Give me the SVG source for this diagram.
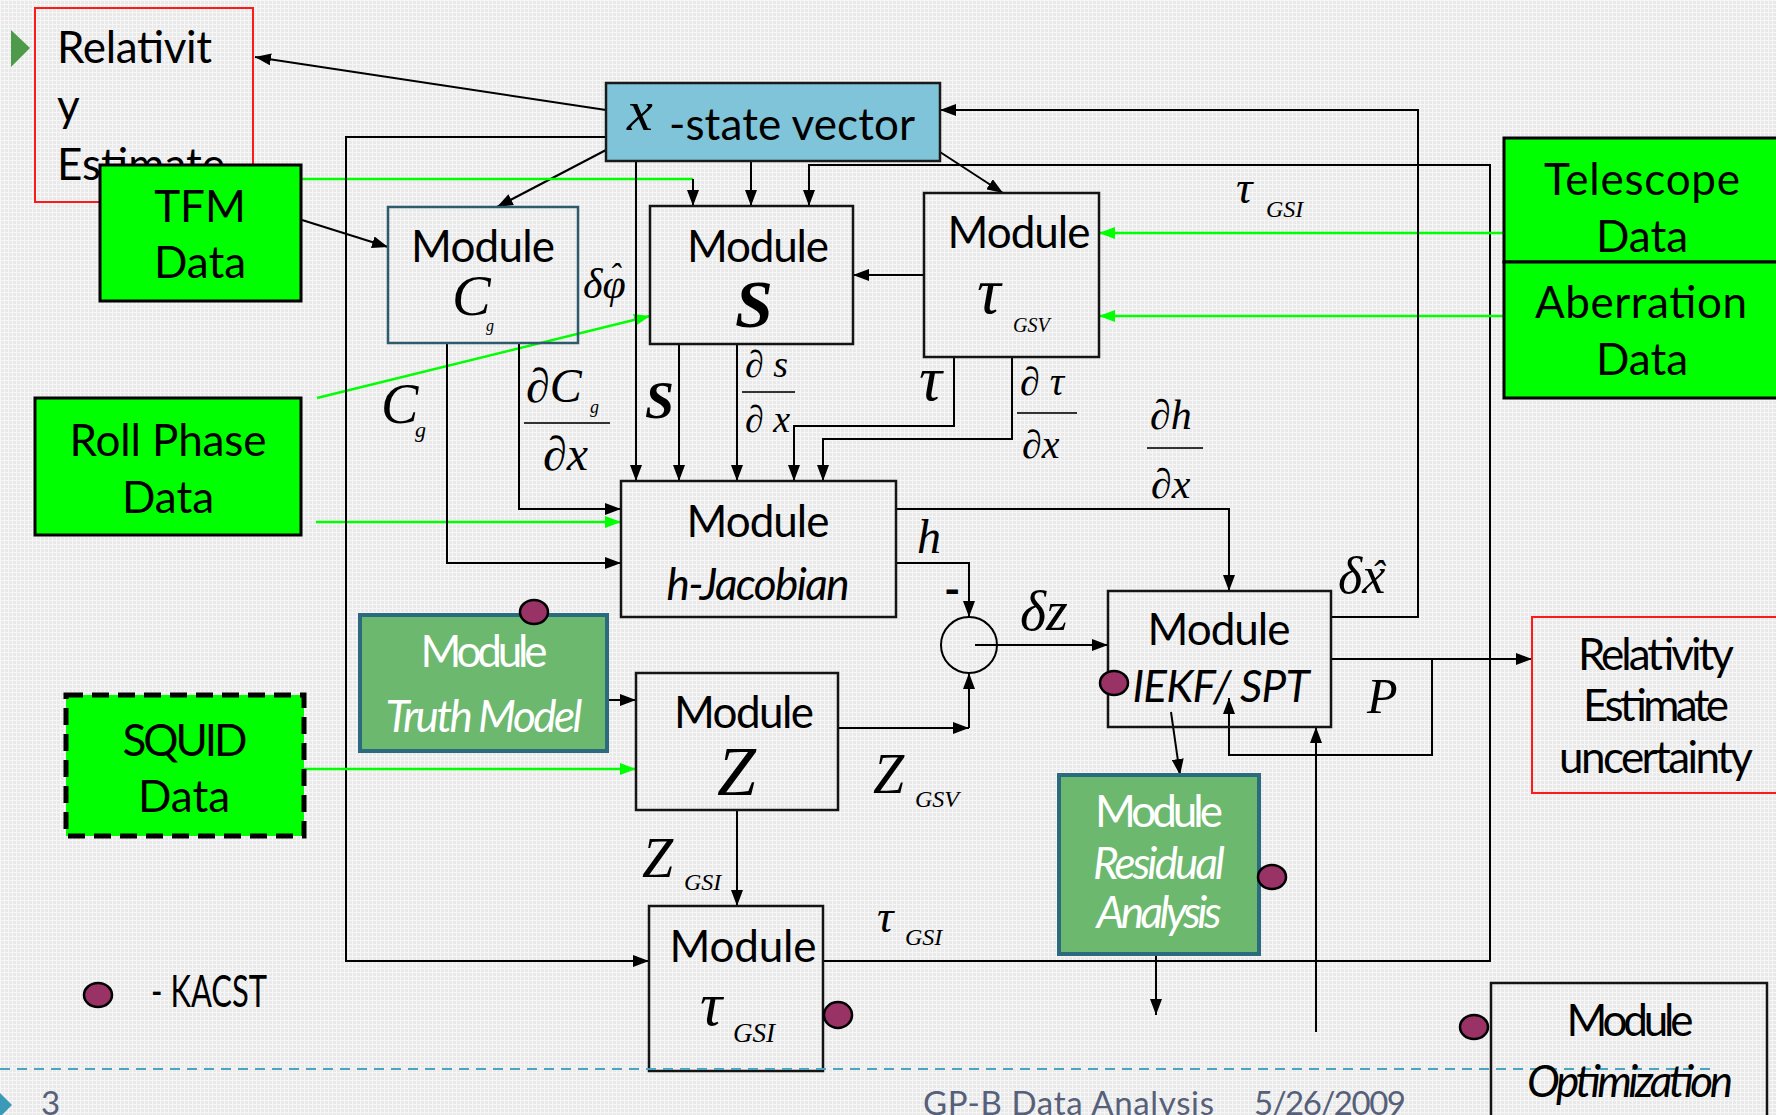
<svg xmlns="http://www.w3.org/2000/svg" width="1776" height="1115" viewBox="0 0 1776 1115">
<defs>
<pattern id="grid" width="4" height="4" patternUnits="userSpaceOnUse">
<rect width="4" height="4" fill="#e9e9e9"/>
<path d="M0 0.5H4M0.5 0V4" stroke="#f6f6f6" stroke-width="1"/>
</pattern>
<marker id="ah" viewBox="0 0 16 12" refX="16" refY="6" markerWidth="16" markerHeight="12" orient="auto" markerUnits="userSpaceOnUse"><path d="M0 0L16 6L0 12z" fill="#000"/></marker>
<marker id="ahg" viewBox="0 0 16 12" refX="16" refY="6" markerWidth="16" markerHeight="12" orient="auto" markerUnits="userSpaceOnUse"><path d="M0 0L16 6L0 12z" fill="#00ff00"/></marker>
<style>
.s{font-family:Lato,"Liberation Sans",sans-serif;font-size:44px;fill:#000}
.it{font-style:italic}
.m{font-family:"Liberation Serif","DejaVu Serif",serif;font-style:italic;fill:#000}
.b{font-weight:bold}
.box{fill:none;stroke:#141414;stroke-width:2.5}
.data{fill:#00ff00;stroke:#000;stroke-width:3}
.gbox{fill:#6bb86e;stroke:#2b6a7f;stroke-width:4}
.red{fill:none;stroke:#ff1a1a;stroke-width:2}
.wt{fill:#fff}
.c{fill:none;stroke:#000;stroke-width:2}
.g{fill:none;stroke:#00ff00;stroke-width:2.5}
.dot{fill:#993366;stroke:#000;stroke-width:2.5}
.mid{text-anchor:middle}
.ft{font-family:Lato,"Liberation Sans",sans-serif;fill:#566079}
</style>
</defs>
<rect width="1776" height="1115" fill="url(#grid)"/>

<g id="connectors">
<path class="c" d="M606 110L255 57" marker-end="url(#ah)"/>
<path class="c" d="M606 150L497 207" marker-end="url(#ah)"/>
<path class="c" d="M302 220L388 247" marker-end="url(#ah)"/>
<path class="g" d="M302 179H693"/>
<path class="c" d="M693 179V206" marker-end="url(#ah)"/>
<path class="c" d="M751 161V206" marker-end="url(#ah)"/>
<path class="c" d="M823 961H1490V165H809V206" marker-end="url(#ah)"/>
<path class="c" d="M940 152L1003 193" marker-end="url(#ah)"/>
<path class="c" d="M924 275H853" marker-end="url(#ah)"/>
<path class="g" d="M1504 233H1099" marker-end="url(#ahg)"/>
<path class="g" d="M1504 316H1099" marker-end="url(#ahg)"/>
<path class="g" d="M317 398L650 316" marker-end="url(#ahg)"/>
<path class="g" d="M316 522H621" marker-end="url(#ahg)"/>
<path class="c" d="M636 161V481" marker-end="url(#ah)"/>
<path class="c" d="M606 137H346V961H649" marker-end="url(#ah)"/>
<path class="c" d="M447 343V563H621" marker-end="url(#ah)"/>
<path class="c" d="M519 343V509H621" marker-end="url(#ah)"/>
<path class="c" d="M679 344V481" marker-end="url(#ah)"/>
<path class="c" d="M737 344V481" marker-end="url(#ah)"/>
<path class="c" d="M954 357V426H794V481" marker-end="url(#ah)"/>
<path class="c" d="M1012 357V439H823V481" marker-end="url(#ah)"/>
<path class="c" d="M896 509H1229V591" marker-end="url(#ah)"/>
<path class="c" d="M896 563H969V617" marker-end="url(#ah)"/>
<circle cx="969" cy="645" r="28" class="c"/>
<path class="c" d="M975 645H1108" marker-end="url(#ah)"/>
<path class="c" d="M838 728H969" marker-end="url(#ah)"/>
<path class="c" d="M969 728V673" marker-end="url(#ah)"/>
<path class="c" d="M607 700H636" marker-end="url(#ah)"/>
<path class="g" d="M304 769H636" marker-end="url(#ahg)"/>
<path class="c" d="M737 810V906" marker-end="url(#ah)"/>
<path class="c" d="M1331 617H1418V110H940" marker-end="url(#ah)"/>
<path class="c" d="M1331 659H1532" marker-end="url(#ah)"/>
<path class="c" d="M1432 659V755H1229V698" marker-end="url(#ah)"/>
<path class="c" d="M1316 1032V727" marker-end="url(#ah)"/>
<path class="c" d="M1171 712L1180 775" marker-end="url(#ah)"/>
<path class="c" d="M1156 954V1015" marker-end="url(#ah)"/>
</g>

<g id="labels">
<text class="m" x="583" y="298" font-size="42">δφ</text>
<text class="m" x="609" y="287" font-size="34">ˆ</text>
<text class="m" x="381" y="423" font-size="56">C</text>
<text class="m" x="415" y="437" font-size="22">g</text>
<text class="m" x="526" y="402" font-size="48">∂C</text>
<text class="m" x="590" y="413" font-size="18">g</text>
<path d="M524 423H610" stroke="#333" stroke-width="2"/>
<text class="m" x="543" y="470" font-size="48">∂x</text>
<text class="m b" x="645" y="418" font-size="52">S</text>
<text class="m" x="745" y="377" font-size="38">∂ s</text>
<path d="M742 392H795" stroke="#333" stroke-width="2"/>
<text class="m" x="745" y="432" font-size="38">∂ x</text>
<text class="m" x="919" y="400" font-size="64">τ</text>
<text class="m" x="1020" y="395" font-size="40">∂ τ</text>
<path d="M1017 413H1077" stroke="#333" stroke-width="2"/>
<text class="m" x="1022" y="458" font-size="40">∂x</text>
<text class="m" x="1150" y="429" font-size="42">∂h</text>
<path d="M1147 448H1203" stroke="#333" stroke-width="2"/>
<text class="m" x="1151" y="498" font-size="42">∂x</text>
<text class="m" x="1236" y="203" font-size="46">τ</text>
<text class="m" x="1266" y="217" font-size="24">GSI</text>
<text class="m" x="917" y="553" font-size="48">h</text>
<text class="s" x="944" y="605" font-size="36" font-weight="bold">-</text>
<text class="m" x="1020" y="630" font-size="56">δz</text>
<text class="m" x="1338" y="593" font-size="52">δx</text>
<text class="m" x="1371" y="588" font-size="40">ˆ</text>
<text class="m" x="1367" y="713" font-size="50">P</text>
<text class="m" x="873" y="793" font-size="56">Z</text>
<text class="m" x="915" y="807" font-size="24">GSV</text>
<text class="m" x="642" y="877" font-size="56">Z</text>
<text class="m" x="684" y="890" font-size="24">GSI</text>
<text class="m" x="877" y="932" font-size="46">τ</text>
<text class="m" x="905" y="945" font-size="24">GSI</text>
</g>

<g id="relativity-estimate">
<rect class="red" x="35" y="8" width="218" height="194"/>
<polygon points="11,30 30,48 11,67" fill="#4e9a4b"/>
<text class="s" x="57" y="63" font-size="43" textLength="155">Relativit</text>
<text class="s" x="57" y="121" font-size="43">y</text>
<text class="s" x="57" y="180" font-size="43">Estimate</text>
</g>

<g id="tfm-data">
<rect class="data" x="100" y="165" width="201" height="136"/>
<text class="s mid" x="200" y="222">TFM</text>
<text class="s mid" x="200" y="278">Data</text>
</g>

<g id="state-vector">
<rect x="606" y="83" width="334" height="78" fill="#7fc4d8" stroke="#1a1a1a" stroke-width="2.5"/>
<text class="m" x="627" y="130" font-size="58">x</text>
<text class="s" x="669" y="140" font-size="42" textLength="246">-state vector</text>
</g>

<g id="module-c">
<rect x="388" y="207" width="190" height="136" fill="none" stroke="#2f5a6c" stroke-width="2.5"/>
<text class="s mid" x="483" y="262" textLength="144">Module</text>
<text class="m" x="452" y="315" font-size="58">C</text>
<text class="m" x="486" y="331" font-size="16">g</text>
</g>

<g id="module-s">
<rect class="box" x="650" y="206" width="203" height="138"/>
<text class="s mid" x="758" y="262" textLength="142">Module</text>
<text class="m b" x="735" y="327" font-size="68">S</text>
</g>

<g id="module-tau-gsv">
<rect class="box" x="924" y="193" width="175" height="164"/>
<text class="s mid" x="1019" y="248" textLength="143">Module</text>
<text class="m" x="977" y="313" font-size="66">τ</text>
<text class="m" x="1013" y="332" font-size="20">GSV</text>
</g>

<g id="telescope-data">
<rect class="data" x="1504" y="138" width="290" height="124"/>
<text class="s mid" x="1642" y="195" font-size="45" textLength="196">Telescope</text>
<text class="s mid" x="1642" y="252" font-size="45">Data</text>
</g>

<g id="aberration-data">
<rect class="data" x="1504" y="262" width="290" height="136"/>
<text class="s mid" x="1641" y="318" font-size="45" textLength="212">Aberration</text>
<text class="s mid" x="1642" y="375" font-size="45">Data</text>
</g>

<g id="roll-phase-data">
<rect class="data" x="35" y="398" width="266" height="137"/>
<text class="s mid" x="168" y="456" textLength="197">Roll Phase</text>
<text class="s mid" x="168" y="513">Data</text>
</g>

<g id="squid-data">
<rect x="66" y="695" width="238" height="141" fill="#00ff00" stroke="#000" stroke-width="5" stroke-dasharray="17 9"/>
<text class="s mid" x="185" y="756" textLength="125">SQUID</text>
<text class="s mid" x="184" y="812">Data</text>
</g>

<g id="module-h-jacobian">
<rect class="box" x="621" y="481" width="275" height="136"/>
<text class="s mid" x="758" y="537" textLength="143">Module</text>
<text class="s it mid" x="758" y="600" textLength="183">h-Jacobian</text>
</g>

<g id="module-truth-model">
<rect class="gbox" x="360" y="615" width="247" height="136"/>
<text class="s wt mid" x="484" y="667" font-size="37" textLength="127">Module</text>
<text class="s wt it mid" x="484" y="732" font-size="37" textLength="197">Truth Model</text>
<ellipse class="dot" cx="534" cy="612" rx="14" ry="12"/>
</g>

<g id="module-z">
<rect class="box" x="636" y="673" width="202" height="137"/>
<text class="s mid" x="744" y="728" textLength="140">Module</text>
<text class="m" x="717" y="795" font-size="70">Z</text>
</g>

<g id="module-iekf-spt">
<rect class="box" x="1108" y="591" width="223" height="136"/>
<text class="s mid" x="1219" y="645" textLength="143">Module</text>
<text class="s it mid" x="1221" y="702" textLength="177">IEKF/ SPT</text>
<ellipse class="dot" cx="1114" cy="683" rx="14" ry="12"/>
</g>

<g id="module-residual-analysis">
<rect class="gbox" x="1059" y="775" width="200" height="179"/>
<text class="s wt mid" x="1159" y="827" font-size="37" textLength="128">Module</text>
<text class="s wt it mid" x="1159" y="879" font-size="37" textLength="132">Residual</text>
<text class="s wt it mid" x="1159" y="928" font-size="37" textLength="125">Analysis</text>
<ellipse class="dot" cx="1272" cy="877" rx="14" ry="12"/>
</g>

<g id="module-tau-gsi">
<rect class="box" x="649" y="906" width="174" height="165"/>
<text class="s mid" x="743" y="962" textLength="147">Module</text>
<text class="m" x="700" y="1025" font-size="62">τ</text>
<text class="m" x="733" y="1042" font-size="27">GSI</text>
<ellipse class="dot" cx="838" cy="1015" rx="14" ry="13"/>
</g>

<g id="relativity-uncertainty">
<rect class="red" x="1532" y="617" width="260" height="176"/>
<text class="s mid" x="1656" y="670" font-size="39" textLength="156">Relativity</text>
<text class="s mid" x="1656" y="721" font-size="39" textLength="146">Estimate</text>
<text class="s mid" x="1656" y="773" font-size="39" textLength="194">uncertainty</text>
</g>

<g id="footer">
<path d="M0 1069H1716" stroke="#4aa5c0" stroke-width="2" stroke-dasharray="10 7"/>
<polygon points="0,1093 12,1105 0,1117" fill="#3a9ab8"/>
<text class="ft" x="41" y="1115" font-size="33">3</text>
<text class="ft" x="923" y="1115" font-size="33" textLength="291">GP-B Data Analysis</text>
<text class="ft" x="1254" y="1115" font-size="33" textLength="152">5/26/2009</text>
</g>

<g id="module-optimization">
<rect class="box" x="1491" y="983" width="276" height="150"/>
<text class="s mid" x="1630" y="1036" font-size="37" textLength="127">Module</text>
<text class="s it mid" x="1630" y="1097" font-size="37" textLength="206">Optimization</text>
<ellipse class="dot" cx="1474" cy="1027" rx="14" ry="12"/>
</g>

<g id="legend">
<ellipse class="dot" cx="98" cy="995" rx="14" ry="12"/>
<text class="s" x="151" y="1007" font-size="26" textLength="116" lengthAdjust="spacingAndGlyphs">- KACST</text>
</g>
</svg>
